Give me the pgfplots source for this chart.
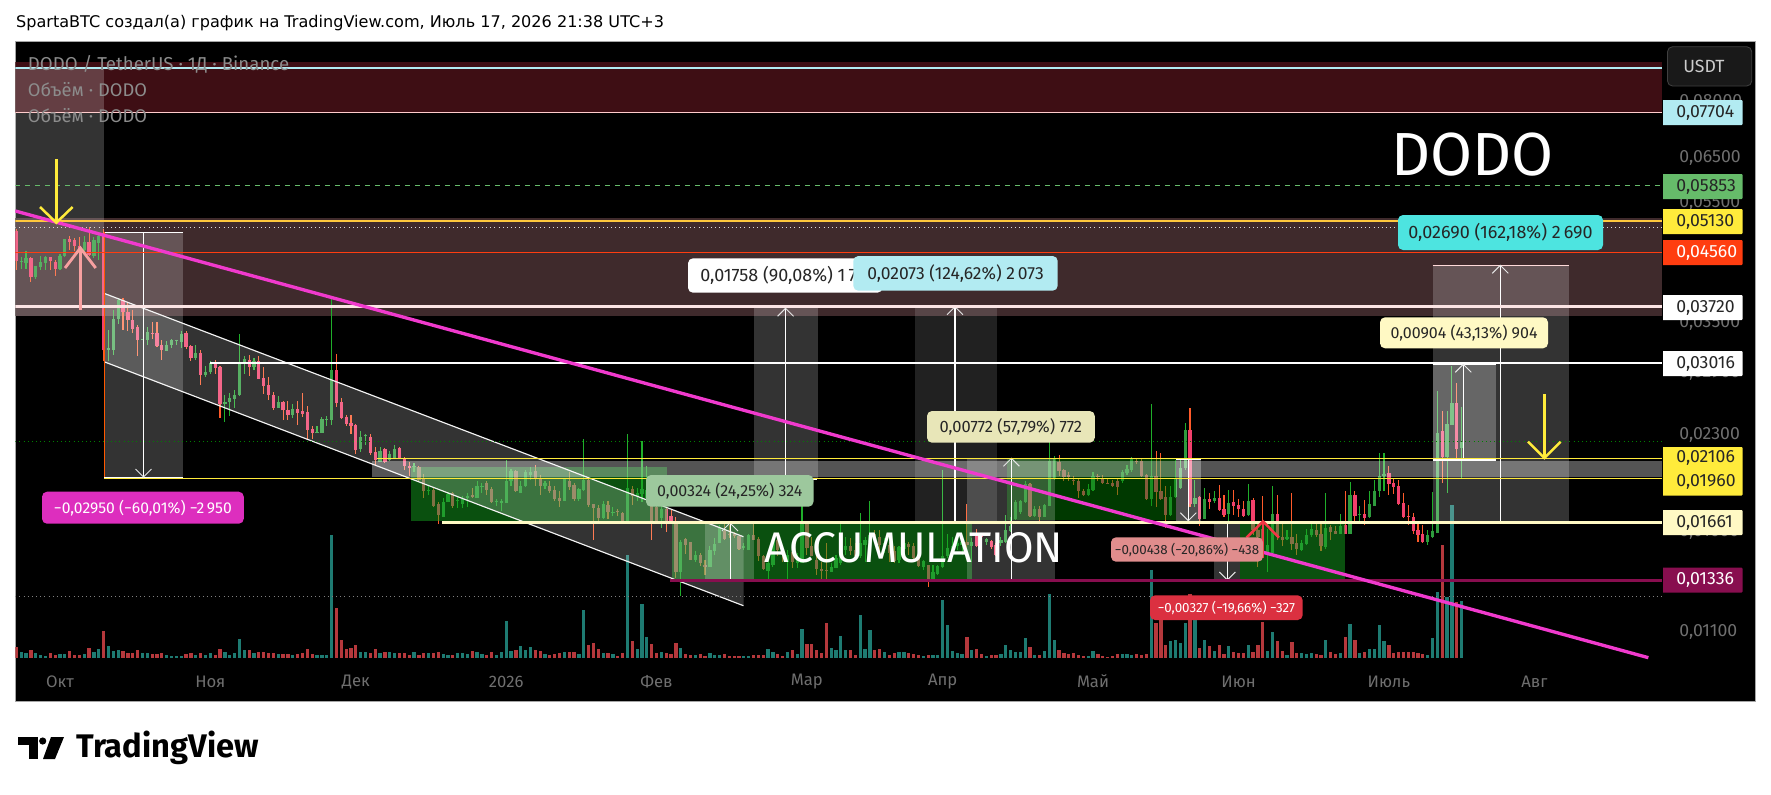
\documentclass[border=0pt]{standalone}
\usepackage{fontspec}
\usepackage{pgfplots}
\usepackage{pgfplotstable}
\pgfplotsset{compat=1.18}
\setmainfont{Fira Sans}
\newfontfamily\titlefont{DejaVu Sans}
\definecolor{upw}{HTML}{1FAE2A}
\definecolor{upb}{HTML}{2E9B3D}
\definecolor{dnw}{HTML}{FF5A2A}
\definecolor{dnb}{HTML}{F2406C}
\definecolor{vup}{HTML}{1E7B72}
\definecolor{vdn}{HTML}{B5383C}
\definecolor{wine}{HTML}{880E4F}
\definecolor{cream}{HTML}{FFF9C4}
\definecolor{tv}{HTML}{6F6F6F}
\definecolor{zonea}{HTML}{3E0E14}
\definecolor{zoneb}{HTML}{3F2A2C}
\definecolor{gbox}{RGB}{20,160,30}
\definecolor{pinkline}{HTML}{F03ACD}
\definecolor{lcyan}{HTML}{B2EBF2}
\definecolor{tcyan}{HTML}{4DE4E0}
\definecolor{lgreen}{HTML}{66BB6A}
\definecolor{yell}{HTML}{FFEB3B}
\definecolor{amber}{HTML}{FFC83D}
\definecolor{orred}{HTML}{FF3D10}
\definecolor{magl}{HTML}{DD2EBE}
\definecolor{sage}{HTML}{9DC89D}
\definecolor{khaki}{HTML}{E8E6B8}
\definecolor{rose}{HTML}{E08D8D}
\definecolor{redl}{HTML}{DB3040}
\definecolor{redarrow}{HTML}{F23645}
\definecolor{pinkarrow}{HTML}{F7A0A0}
\definecolor{pinkwhite}{HTML}{FBE4E4}
% date index (days from 1 Oct 2025), open, high, low, close, volume
\pgfplotstableread{
d o h l c v
-8 0.04400 0.04486 0.04293 0.04423 5.3
-7 0.04384 0.04580 0.04293 0.04470 4.3
-5 0.04161 0.04341 0.04131 0.04341 4.3
-4 0.04320 0.04507 0.04265 0.04394 2.7
-3 0.04384 0.04495 0.04277 0.04486 1.7
0 0.04288 0.04536 0.04265 0.04507 3.7
1 0.04507 0.04799 0.04486 0.04799 3.7
5 0.04610 0.04846 0.04580 0.04737 3.7
7 0.04507 0.04834 0.04470 0.04786 5.7
8 0.04726 0.04877 0.04428 0.04859 8.7
10 0.03169 0.03416 0.03033 0.03185 11.7
11 0.03160 0.03681 0.03110 0.03555 6.7
12 0.03555 0.03846 0.03493 0.03822 7.7
17 0.03290 0.03299 0.03281 0.03299 4.3
18 0.03290 0.03446 0.03229 0.03390 5
22 0.03148 0.03277 0.03148 0.03229 3
23 0.03220 0.03299 0.03190 0.03281 1.7
24 0.03281 0.03290 0.03229 0.03290 1.7
25 0.03264 0.03403 0.03190 0.03360 1.7
28 0.03075 0.03229 0.03044 0.03130 3
30 0.02882 0.02984 0.02861 0.02918 3
31 0.02910 0.03033 0.02896 0.03016 4.3
34 0.02588 0.02677 0.02420 0.02609 5.7
35 0.02606 0.02694 0.02476 0.02647 2.7
36 0.02634 0.02727 0.02547 0.02677 4.3
37 0.02677 0.03365 0.02667 0.03016 18.7
38 0.03007 0.03090 0.02896 0.03060 7.7
40 0.02975 0.03072 0.02932 0.03041 5
45 0.02551 0.02667 0.02551 0.02606 3.7
48 0.02484 0.02588 0.02455 0.02540 3
53 0.02324 0.02383 0.02324 0.02330 2.3
54 0.02324 0.02465 0.02324 0.02443 3
55 0.02440 0.02475 0.02383 0.02446 2.7
56 0.02437 0.03846 0.02392 0.02932 122.7
62 0.02186 0.02339 0.02157 0.02287 5.7
63 0.02295 0.02313 0.02220 0.02301 5.7
66 0.02082 0.02203 0.02082 0.02170 4.3
68 0.02098 0.02170 0.02087 0.02146 5.7
69 0.02114 0.02220 0.02114 0.02186 5
73 0.02043 0.02074 0.02006 0.02051 5.7
76 0.01868 0.01904 0.01840 0.01875 4.3
79 0.01694 0.01820 0.01694 0.01792 3.3
80 0.01792 0.01861 0.01792 0.01847 2.3
82 0.01798 0.01833 0.01752 0.01806 4.3
83 0.01780 0.01833 0.01752 0.01813 4.3
84 0.01820 0.01854 0.01760 0.01833 3.7
86 0.01820 0.01939 0.01820 0.01904 5.7
87 0.01896 0.01925 0.01854 0.01904 3.7
90 0.01789 0.01813 0.01762 0.01796 2.3
91 0.01785 0.01813 0.01734 0.01796 5.7
92 0.01785 0.02098 0.01785 0.01939 36.7
93 0.01935 0.02026 0.01904 0.02011 6.7
95 0.01856 0.01935 0.01852 0.01904 11.7
96 0.01899 0.02021 0.01895 0.02008 7.7
97 0.01984 0.02041 0.01947 0.02008 10.7
100 0.01899 0.01935 0.01882 0.01923 3.7
104 0.01796 0.01960 0.01796 0.01952 5.7
107 0.01811 0.01887 0.01801 0.01882 3.7
108 0.01875 0.02268 0.01864 0.01947 47.7
112 0.01686 0.01798 0.01681 0.01780 4.7
114 0.01719 0.01757 0.01700 0.01723 3.7
117 0.01671 0.02313 0.01671 0.01887 102.7
119 0.01829 0.01887 0.01796 0.01852 9
120 0.01847 0.02253 0.01789 0.01880 53.7
121 0.01818 0.02048 0.01806 0.01875 20.7
124 0.01686 0.01762 0.01628 0.01747 5.7
128 0.01376 0.01554 0.01259 0.01544 9.7
131 0.01442 0.01491 0.01431 0.01467 2.3
134 0.01404 0.01518 0.01404 0.01495 4.3
135 0.01491 0.01565 0.01467 0.01531 2.3
136 0.01537 0.01644 0.01535 0.01628 2.3
141 0.01510 0.01535 0.01495 0.01518 1.7
142 0.01497 0.01587 0.01497 0.01584 1.7
146 0.01384 0.01442 0.01342 0.01425 8.7
147 0.01417 0.01565 0.01404 0.01554 5.7
150 0.01431 0.01497 0.01342 0.01469 5.7
152 0.01425 0.01482 0.01398 0.01450 3.7
153 0.01425 0.01796 0.01425 0.01647 28.7
159 0.01379 0.01425 0.01376 0.01404 9.7
160 0.01401 0.01469 0.01398 0.01450 7.7
161 0.01425 0.01647 0.01415 0.01502 21.7
162 0.01497 0.01574 0.01469 0.01518 7.7
165 0.01463 0.01719 0.01455 0.01535 42.7
166 0.01525 0.01574 0.01431 0.01554 8.7
167 0.01544 0.01798 0.01525 0.01584 27.7
170 0.01500 0.01565 0.01482 0.01535 5.7
173 0.01442 0.01518 0.01425 0.01513 5.7
174 0.01505 0.01544 0.01482 0.01535 5.7
178 0.01404 0.01444 0.01388 0.01436 1.7
180 0.01342 0.01415 0.01342 0.01376 2.7
181 0.01368 0.01417 0.01363 0.01409 2.7
182 0.01404 0.02021 0.01398 0.01463 57.7
183 0.01461 0.01590 0.01455 0.01510 32.7
184 0.01495 0.01571 0.01463 0.01518 6.7
185 0.01518 0.01574 0.01497 0.01535 4.7
186 0.01525 0.01565 0.01469 0.01544 3.7
188 0.01518 0.01565 0.01431 0.01544 7.7
191 0.01544 0.01565 0.01525 0.01558 1.7
194 0.01535 0.01574 0.01518 0.01554 3.7
195 0.01544 0.01707 0.01535 0.01614 12.7
196 0.01610 0.01696 0.01600 0.01637 7.7
197 0.01683 0.01806 0.01676 0.01789 5.3
198 0.01723 0.01806 0.01712 0.01796 6
199 0.01789 0.01935 0.01785 0.01918 19.7
201 0.01700 0.01762 0.01696 0.01747 2.7
203 0.01693 0.01780 0.01693 0.01771 6.7
204 0.01766 0.02290 0.01762 0.02091 63.7
205 0.01960 0.02127 0.01947 0.02104 17.7
212 0.01840 0.01916 0.01829 0.01880 1.7
213 0.01875 0.02001 0.01870 0.01977 6.7
219 0.01935 0.02021 0.01927 0.02001 3.7
220 0.01996 0.02059 0.01984 0.02026 3.7
221 0.02021 0.02118 0.02008 0.02104 2.7
225 0.01811 0.02588 0.01762 0.01977 87.7
229 0.01707 0.01899 0.01700 0.01825 16.7
230 0.01825 0.02098 0.01818 0.01960 17.7
231 0.01887 0.02098 0.01880 0.02033 14.3
232 0.02033 0.02412 0.02021 0.02348 34.7
234 0.01780 0.01947 0.01757 0.01818 39.3
236 0.01683 0.01887 0.01680 0.01811 17.7
238 0.01796 0.01864 0.01785 0.01818 6.7
241 0.01714 0.01875 0.01671 0.01785 11.7
245 0.01707 0.01918 0.01703 0.01798 12.7
249 0.01478 0.01622 0.01376 0.01525 6.7
250 0.01478 0.01904 0.01469 0.01714 25.7
253 0.01558 0.01614 0.01554 0.01571 2.7
256 0.01497 0.01554 0.01491 0.01538 4.3
257 0.01531 0.01622 0.01525 0.01584 3.7
258 0.01584 0.01654 0.01574 0.01620 4.3
261 0.01513 0.01852 0.01500 0.01626 17.7
264 0.01590 0.01714 0.01590 0.01639 4.7
266 0.01590 0.01930 0.01590 0.01840 33.7
268 0.01707 0.01766 0.01665 0.01712 4.7
270 0.01692 0.01864 0.01686 0.01778 8.7
271 0.01766 0.01947 0.01762 0.01870 8.7
272 0.01864 0.02152 0.01825 0.01977 32.7
273 0.01972 0.02152 0.01864 0.01991 16.7
282 0.01540 0.01614 0.01525 0.01584 2.7
283 0.01574 0.01859 0.01565 0.01610 19.7
284 0.01597 0.02710 0.01597 0.02319 65.7
286 0.02122 0.02515 0.01852 0.02401 60.7
287 0.02392 0.02984 0.02392 0.02594 152.7
289 0.02191 0.02561 0.01960 0.02242 56.7
}\up
\pgfplotstableread{
d o h l c v
-9 0.04938 0.04982 0.04277 0.04410 10.3
-6 0.04470 0.04480 0.04089 0.04161 7.7
-2 0.04486 0.04486 0.04277 0.04410 4.3
-1 0.04407 0.04428 0.04171 0.04288 3
2 0.04799 0.04859 0.04610 0.04750 6.7
3 0.04786 0.04816 0.04580 0.04680 3
4 0.04680 0.04834 0.04524 0.04598 2.3
6 0.04737 0.05020 0.04507 0.04524 9.7
9 0.04877 0.04988 0.03033 0.03160 26.7
13 0.03822 0.03846 0.03407 0.03644 6.7
14 0.03653 0.03775 0.03394 0.03546 4.3
15 0.03546 0.03672 0.03373 0.03429 4.3
16 0.03446 0.03480 0.03098 0.03290 7.7
19 0.03377 0.03515 0.03303 0.03364 3.7
20 0.03377 0.03510 0.03200 0.03209 3.7
21 0.03229 0.03290 0.03052 0.03160 4.3
26 0.03377 0.03403 0.03177 0.03204 3.7
27 0.03217 0.03229 0.03033 0.03075 4.3
29 0.03134 0.03169 0.02773 0.02885 4.3
32 0.03016 0.03052 0.02896 0.02962 2.7
33 0.02973 0.02987 0.02458 0.02588 8.7
39 0.03052 0.03110 0.02874 0.02975 7.7
41 0.03041 0.03098 0.02843 0.02843 5.7
42 0.02853 0.02969 0.02687 0.02762 5.7
43 0.02772 0.02861 0.02627 0.02677 4.3
44 0.02677 0.02704 0.02530 0.02547 4.3
46 0.02606 0.02620 0.02437 0.02524 3.7
47 0.02527 0.02613 0.02437 0.02484 3.3
49 0.02540 0.02620 0.02392 0.02502 3.7
50 0.02521 0.02694 0.02467 0.02493 4.3
51 0.02511 0.02568 0.02256 0.02348 8.7
52 0.02357 0.02383 0.02268 0.02319 3.7
57 0.02932 0.03122 0.02561 0.02599 49.7
58 0.02606 0.02647 0.02443 0.02455 17.7
59 0.02465 0.02484 0.02383 0.02401 9
60 0.02410 0.02484 0.02313 0.02383 9.7
61 0.02392 0.02401 0.02146 0.02178 12.7
64 0.02287 0.02313 0.02138 0.02155 4.3
65 0.02162 0.02203 0.02053 0.02098 8.7
67 0.02186 0.02195 0.02074 0.02082 5.7
70 0.02195 0.02203 0.02104 0.02104 5
71 0.02106 0.02122 0.02021 0.02051 4.3
72 0.02051 0.02082 0.01977 0.02036 3
74 0.02043 0.02051 0.01935 0.01947 3
75 0.01955 0.01991 0.01820 0.01868 4.3
77 0.01875 0.01889 0.01760 0.01766 4.3
78 0.01780 0.01792 0.01650 0.01707 5.7
81 0.01852 0.01861 0.01752 0.01766 3
85 0.01840 0.01889 0.01820 0.01827 6.7
88 0.01927 0.01935 0.01840 0.01875 2.7
89 0.01880 0.01895 0.01785 0.01789 6
94 0.02011 0.02021 0.01861 0.01866 8
98 0.02011 0.02059 0.01904 0.01952 8
99 0.01952 0.01984 0.01840 0.01904 7
101 0.01904 0.01935 0.01852 0.01866 2.7
102 0.01873 0.01899 0.01796 0.01813 4
103 0.01818 0.01864 0.01757 0.01796 5
105 0.01939 0.02008 0.01875 0.01895 5.7
106 0.01911 0.01923 0.01801 0.01811 5.7
109 0.01947 0.01968 0.01757 0.01771 12.7
110 0.01778 0.01780 0.01554 0.01754 14.7
111 0.01754 0.01773 0.01671 0.01686 9
113 0.01773 0.01796 0.01680 0.01723 4.7
115 0.01733 0.01747 0.01700 0.01725 1.7
116 0.01719 0.01723 0.01665 0.01669 4.7
118 0.01880 0.01899 0.01773 0.01833 17
122 0.01829 0.01840 0.01554 0.01671 13.7
123 0.01757 0.01766 0.01665 0.01671 4.7
125 0.01747 0.01757 0.01600 0.01665 4.7
126 0.01700 0.01742 0.01654 0.01658 3.7
127 0.01654 0.01693 0.01346 0.01376 14.7
129 0.01558 0.01565 0.01473 0.01525 3.7
130 0.01544 0.01544 0.01444 0.01444 2.3
132 0.01469 0.01482 0.01409 0.01424 3.7
133 0.01417 0.01442 0.01363 0.01407 1.7
137 0.01605 0.01654 0.01554 0.01562 3.7
138 0.01590 0.01644 0.01565 0.01584 1.7
139 0.01587 0.01600 0.01565 0.01578 1.7
140 0.01578 0.01578 0.01500 0.01505 1.7
143 0.01584 0.01650 0.01554 0.01554 2.7
144 0.01560 0.01571 0.01436 0.01461 2.7
145 0.01463 0.01469 0.01388 0.01394 2.7
148 0.01554 0.01574 0.01461 0.01497 3.7
149 0.01505 0.01520 0.01431 0.01469 1.7
151 0.01488 0.01497 0.01398 0.01431 7.7
154 0.01650 0.01654 0.01469 0.01510 13.7
155 0.01521 0.01574 0.01461 0.01461 13.7
156 0.01444 0.01469 0.01363 0.01394 7.7
157 0.01392 0.01431 0.01342 0.01384 4.7
158 0.01388 0.01535 0.01342 0.01384 34.7
163 0.01520 0.01565 0.01469 0.01493 7.7
164 0.01497 0.01535 0.01450 0.01461 2.7
168 0.01590 0.01614 0.01537 0.01571 7.7
169 0.01574 0.01614 0.01461 0.01525 8.7
171 0.01525 0.01544 0.01431 0.01482 2.7
172 0.01491 0.01518 0.01424 0.01434 4.7
175 0.01531 0.01544 0.01469 0.01513 4.7
176 0.01520 0.01535 0.01442 0.01450 3.7
177 0.01450 0.01461 0.01404 0.01409 2.7
179 0.01415 0.01415 0.01305 0.01342 2.7
187 0.01544 0.01780 0.01482 0.01525 20.7
189 0.01578 0.01622 0.01518 0.01520 8.7
190 0.01578 0.01590 0.01544 0.01571 3.7
192 0.01547 0.01554 0.01502 0.01513 2.3
193 0.01525 0.01535 0.01461 0.01467 2.7
200 0.01918 0.01927 0.01693 0.01700 10.7
202 0.01743 0.01766 0.01671 0.01696 2.7
206 0.02084 0.02133 0.01977 0.02014 7.7
207 0.02021 0.02026 0.01935 0.01968 4.3
208 0.01984 0.02008 0.01935 0.01968 3.7
209 0.01947 0.01977 0.01911 0.01935 4.3
210 0.01939 0.01952 0.01818 0.01864 2.7
211 0.01870 0.01880 0.01833 0.01840 1.7
214 0.01977 0.01991 0.01941 0.01965 3.7
215 0.01960 0.01984 0.01918 0.01923 1.7
216 0.01927 0.01960 0.01918 0.01923 1
217 0.01927 0.01947 0.01895 0.01904 1.7
218 0.01939 0.01952 0.01840 0.01895 3.7
222 0.02091 0.02112 0.02069 0.02078 3.7
223 0.02091 0.02104 0.01972 0.01977 2.7
224 0.01982 0.01991 0.01806 0.01811 3.7
226 0.01972 0.02167 0.01757 0.01861 34.7
227 0.01870 0.02152 0.01811 0.01815 57.7
228 0.01825 0.01904 0.01628 0.01707 12.7
233 0.02348 0.02547 0.01757 0.01780 63.7
235 0.01825 0.01829 0.01637 0.01680 9.7
237 0.01815 0.01852 0.01747 0.01792 11.7
239 0.01820 0.01911 0.01730 0.01740 12.7
240 0.01743 0.01840 0.01696 0.01707 3.7
242 0.01789 0.01875 0.01707 0.01766 5.3
243 0.01771 0.01811 0.01696 0.01745 4.3
244 0.01747 0.01796 0.01696 0.01700 4.3
246 0.01806 0.01818 0.01584 0.01614 5.3
247 0.01614 0.01654 0.01404 0.01574 12.7
248 0.01619 0.01833 0.01518 0.01544 35.7
251 0.01714 0.01840 0.01554 0.01571 16.7
252 0.01574 0.01654 0.01518 0.01554 6.7
254 0.01569 0.01852 0.01497 0.01531 15.7
255 0.01538 0.01590 0.01467 0.01503 4.3
259 0.01614 0.01650 0.01574 0.01584 3.7
260 0.01592 0.01654 0.01491 0.01518 2.3
262 0.01630 0.01644 0.01554 0.01600 5.7
263 0.01605 0.01639 0.01590 0.01590 3.7
265 0.01644 0.01870 0.01590 0.01590 20.7
267 0.01840 0.01868 0.01654 0.01700 17.7
269 0.01714 0.01806 0.01644 0.01690 5.7
274 0.01999 0.02051 0.01840 0.01918 12.7
275 0.01923 0.01952 0.01847 0.01895 4.7
276 0.01904 0.01947 0.01773 0.01780 5.7
277 0.01785 0.01852 0.01686 0.01692 5.7
278 0.01700 0.01773 0.01644 0.01696 5.7
279 0.01694 0.01719 0.01590 0.01605 5.7
280 0.01614 0.01654 0.01544 0.01584 4.7
281 0.01590 0.01644 0.01537 0.01540 3.7
285 0.02334 0.02515 0.01923 0.02122 112.7
288 0.02594 0.02795 0.02098 0.02183 55.7
}\dn
% picture unit: one reference pixel = 0.6pt
\pgfplotsset{every axis/.append style={scale only axis,width=987.9pt,height=370.38pt,
  at={(9.18pt,-395.4pt)},anchor=south west}}
\newcommand{\Rx}[5]{\addplot[draw=none,fill=#5] coordinates {(#1,#3)(#2,#3)(#2,#4)(#1,#4)} --cycle;}
\newcommand{\Lv}[3]{\addplot[#3] coordinates {(#2,#1)(330.27,#1)};}
\newcommand{\Lbl}[8]{\fill[#5,rounded corners=3pt] (#1,#3) rectangle (#2,#4);
  \node[text=#6,font=\fontsize{#8pt}{11pt}\selectfont,inner sep=0] at ({(#1+#2)/2},{(#3+#4)/2}) {#7};}
\newcommand{\Pl}[3]{\fill[#3] (1663,#1) -- (1741.5,#1) -- (1742.5,#1+1) -- (1742.5,#2-1) -- (1741.5,#2) -- (1663,#2) --cycle;}
\newcommand{\Pn}[3]{\node[text=#2,font=\fontsize{10.6pt}{11pt}\selectfont,anchor=west,inner sep=0] at (1676,#1) {#3};}
\begin{document}
\begin{tikzpicture}
\begin{scope}[x=0.6pt,y=-0.6pt]
\useasboundingbox (0,0) rectangle (1771,794);
\fill[white] (0,0) rectangle (1771,794);
\fill[black,draw=gray!70!white,line width=0.5pt] (15.3,41.7) rectangle (1755.5,701);
\node[anchor=west,inner sep=0,font=\titlefont\fontsize{9.65pt}{11pt}\selectfont] at (15.8,23.5) {SpartaBTC создал(а) график на TradingView.com, Июль 17, 2026 21:38 UTC+3};
\end{scope}
% volume
\begin{axis}[hide axis,xmin=-9.216,xmax=330.27,ymin=-1.3,ymax=616]
\addplot[ycomb,color=vup,line width=1.95pt] table[x=d,y=v]{\up};
\addplot[ycomb,color=vdn,line width=1.95pt] table[x=d,y=v]{\dn};
\end{axis}
% price
\begin{axis}[xmin=-9.216,xmax=330.27,ymode=log,ymin=0.00995,ymax=0.10043,
  axis line style={draw=none},tick style={draw=none},major tick length=0pt,
  yminorticks=false,xminorticks=false,ytick pos=right,
  ytick={0.011,0.016,0.023,0.029,0.035,0.055,0.065,0.08},
  yticklabels={{0,01100},{0,01600},{0,02300},{0,02900},{0,03500},{0,05500},{0,06500},{0,08000}},
  xtick={0,31,61,92,123,154,182,213,243,274,304},
  xticklabels={Окт,Ноя,Дек,2026,Фев,Мар,Апр,Май,Июн,Июль,Авг},
  yticklabel style={text=tv,font=\fontsize{10.6pt}{11pt}\selectfont,anchor=west,xshift=7pt},
  xticklabel style={text=tv,font=\fontsize{10pt}{11pt}\selectfont,anchor=center,yshift=-13.5pt}]
\Rx{-9.216}{330.27}{0.0931}{0.07704}{zonea}
\Rx{-9.216}{330.27}{0.05184}{0.03599}{zoneb}
\addplot[draw=none,mark=none,error bars/.cd,y dir=both,y explicit,error mark=none,error bar style={color=upw,line width=0.66pt}] table[x=d,y=c,y error plus expr=\thisrow{h}-\thisrow{c},y error minus expr=\thisrow{c}-\thisrow{l}]{\up};
\addplot[draw=none,mark=none,error bars/.cd,y dir=both,y explicit,error mark=none,error bar style={color=dnw,line width=0.66pt}] table[x=d,y=c,y error plus expr=\thisrow{h}-\thisrow{c},y error minus expr=\thisrow{c}-\thisrow{l}]{\dn};
\addplot[draw=none,mark=none,error bars/.cd,y dir=minus,y explicit,error mark=none,error bar style={color=upb,line width=1.95pt}] table[x=d,y=c,y error minus expr=\thisrow{c}-\thisrow{o}]{\up};
\addplot[draw=none,mark=none,error bars/.cd,y dir=plus,y explicit,error mark=none,error bar style={color=dnb,line width=1.95pt}] table[x=d,y=c,y error plus expr=\thisrow{o}-\thisrow{c}]{\dn};
\end{axis}
% drawing tools in reference pixel coordinates
\begin{axis}[hide axis,xmin=15.3,xmax=1661.8,ymin=41.7,ymax=659,y dir=reverse]
\Rx{411}{667}{466.7}{521}{gbox,fill opacity=.5}
\Rx{671.6}{972}{522}{579.3}{gbox,fill opacity=.5}
\Rx{1006.7}{1176}{459}{520}{green!50!black,fill opacity=.45}
\Rx{1240}{1345}{524}{579}{gbox,fill opacity=.5}
\Rx{15.3}{104}{68}{316}{white,fill opacity=.2}
\addplot[draw=none,fill=white,fill opacity=.2] coordinates {(104,293.3)(743.5,536.7)(743.5,605.7)(104,361.7)} --cycle;
\addplot[white!90!gray,line width=0.7pt] coordinates {(104,293.3)(743.5,536.7)};
\addplot[white!90!gray,line width=0.7pt] coordinates {(104,361.7)(743.5,605.7)};
\Rx{372}{1661.8}{461}{476.7}{white,fill opacity=.33}
\Rx{104}{182.5}{232.3}{477.7}{white,fill opacity=.2}
\addplot[white,line width=0.7pt] coordinates {(104,232.3)(182.5,232.3)};
\addplot[orange!70!red,line width=0.6pt] coordinates {(104.3,232.3)(104.3,477.7)};
\addplot[white,line width=1.2pt] coordinates {(104,477.7)(182.5,477.7)};
\addplot[white,line width=0.6pt] coordinates {(143.5,232.3)(143.5,477)};
\addplot[white!80!gray,line width=0.6pt] coordinates {(135.5,469)(143.5,477)(151.5,469)};
\Rx{705}{754}{523}{580}{white,fill opacity=.2}
\addplot[white,line width=0.8pt] coordinates {(705,580)(754,580)};
\addplot[white,line width=0.6pt] coordinates {(730,580)(730,523)};
\addplot[white!80!gray,line width=0.6pt] coordinates {(722,531)(730,523)(738,531)};
\Rx{753.8}{818}{308.3}{479}{white,fill opacity=.2}
\addplot[white,line width=1.2pt] coordinates {(753.8,479)(817,479)};
\addplot[white,line width=0.7pt] coordinates {(785.6,479)(785.6,308.3)};
\addplot[white!80!gray,line width=0.6pt] coordinates {(777.6,316.3)(785.6,308.3)(793.6,316.3)};
\Rx{914.6}{997}{306.7}{522}{white,fill opacity=.13}
\addplot[white,line width=0.7pt] coordinates {(955,522)(955,306.7)};
\addplot[white!80!gray,line width=0.6pt] coordinates {(947,314.7)(955,306.7)(963,314.7)};
\Rx{967.4}{1054.7}{458.3}{580}{white,fill opacity=.2}
\addplot[white,line width=0.8pt] coordinates {(967.4,458.3)(1054.7,458.3)};
\addplot[white,line width=0.8pt] coordinates {(967.4,580)(1054.7,580)};
\addplot[white,line width=0.6pt] coordinates {(1011.4,580)(1011.4,458.3)};
\addplot[white!80!gray,line width=0.6pt] coordinates {(1003.4,466.3)(1011.4,458.3)(1019.4,466.3)};
\Rx{1176}{1200.7}{459.3}{520.7}{white,fill opacity=.3}
\addplot[white,line width=0.8pt] coordinates {(1176,459.3)(1200.7,459.3)};
\addplot[white,line width=0.6pt] coordinates {(1188.3,459.3)(1188.3,520.7)};
\addplot[white!80!gray,line width=0.6pt] coordinates {(1180.3,512.7)(1188.3,520.7)(1196.3,512.7)};
\Rx{1214}{1240}{522}{580}{white,fill opacity=.2}
\addplot[white,line width=0.8pt] coordinates {(1214,580)(1240,580)};
\addplot[white,line width=0.6pt] coordinates {(1227.4,522)(1227.4,580)};
\addplot[white!80!gray,line width=0.6pt] coordinates {(1219.4,572)(1227.4,580)(1235.4,572)};
\Rx{1432.7}{1496}{364.3}{460}{white,fill opacity=.25}
\addplot[white,line width=0.8pt] coordinates {(1432.7,364.3)(1496,364.3)};
\addplot[white,line width=0.9pt] coordinates {(1432.7,460)(1496,460)};
\addplot[white,line width=0.6pt] coordinates {(1463.3,460)(1463.3,364.3)};
\addplot[white!80!gray,line width=0.6pt] coordinates {(1455.3,372.3)(1463.3,364.3)(1471.3,372.3)};
\Rx{1432.5}{1569}{265.3}{522}{white,fill opacity=.2}
\addplot[white!85!red,line width=0.7pt] coordinates {(1432.5,265.3)(1569,265.3)};
\addplot[white,line width=0.7pt] coordinates {(1500.3,522)(1500.3,265.3)};
\addplot[white!80!gray,line width=0.6pt] coordinates {(1492.3,273.3)(1500.3,265.3)(1508.3,273.3)};
\end{axis}
% horizontal levels at their prices, trend line
\begin{axis}[hide axis,xmin=-9.216,xmax=330.27,ymode=log,ymin=0.00995,ymax=0.10043]
\Lv{0.0909}{-9.216}{color=lcyan,line width=1.3pt}
\Lv{0.07704}{-9.216}{color=white!80!red,line width=0.6pt}
\Lv{0.05853}{-9.216}{color=lgreen,line width=0.6pt,dash pattern=on 3pt off 3pt}
\Lv{0.0513}{-9.216}{color=amber,line width=1.5pt}
\Lv{0.0501}{-9.216}{color=white!70!gray,line width=0.5pt,dotted}
\Lv{0.0456}{-9.216}{color=orred,line width=0.7pt}
\Lv{0.0372}{-9.216}{color=pinkwhite,line width=1.8pt}
\Lv{0.03016}{31}{color=white,line width=0.7pt}
\Lv{0.02248}{-9.216}{color=green!50!black,line width=0.5pt,dotted}
\Lv{0.02106}{65.4}{color=yell,line width=0.6pt}
\Lv{0.0196}{9.07}{color=yell,line width=0.6pt}
\Lv{0.01661}{78.8}{color=cream,line width=1.8pt}
\Lv{0.01336}{125.8}{color=wine,line width=1.8pt}
\Lv{0.01258}{-9.216}{color=gray,line width=0.5pt,dotted}
\addplot[color=pinkline,line width=2pt] coordinates {(-9.216,0.05328)(327.5,0.01000)};
\end{axis}
% arrows
\begin{axis}[hide axis,xmin=15.3,xmax=1661.8,ymin=41.7,ymax=659,y dir=reverse]
\addplot[yell,line width=1.5pt] coordinates {(56.3,159)(56.3,222.7)};
\addplot[yell,line width=1.5pt] coordinates {(40,207)(56.3,222.7)(72.6,207)};
\addplot[pinkarrow,line width=1.7pt] coordinates {(80.4,310)(80.4,248)};
\addplot[pinkarrow,line width=1.7pt] coordinates {(65,268)(80.4,248)(95.7,268)};
\addplot[yell,line width=1.5pt] coordinates {(1544.3,394)(1544.3,458)};
\addplot[yell,line width=1.5pt] coordinates {(1528,441.7)(1544.3,458)(1560.6,441.7)};
\addplot[redarrow,line width=1.5pt] coordinates {(1263,558)(1263,521.3)};
\addplot[redarrow,line width=1.5pt] coordinates {(1246.5,537.7)(1263,521.3)(1279,537.7)};
\end{axis}
\begin{scope}[x=0.6pt,y=-0.6pt]
\node[anchor=west,inner sep=0,text=white!55!black,font=\fontsize{11.2pt}{12pt}\selectfont] at (27.5,64.5) {DODO / TetherUS · 1Д · Binance};
\node[anchor=west,inner sep=0,text=white!55!black,font=\fontsize{11pt}{12pt}\selectfont] at (27.5,90) {Объём · DODO};
\node[anchor=west,inner sep=0,text=white!55!black,font=\fontsize{11pt}{12pt}\selectfont] at (27.5,116) {Объём · DODO};
\node[text=white,inner sep=0,font=\fontsize{36.5pt}{40pt}\selectfont] at (1472.7,155) {DODO};
\node[text=white,inner sep=0,font=\fontsize{25.7pt}{30pt}\selectfont] at (914,548) {ACCUMULATION};
\Lbl{42}{243.8}{491.7}{523.7}{magl}{white}{−0,02950 (−60,01\%) −2\,950}{9.4}
\Lbl{646}{813.5}{475}{506.7}{sage}{black!85}{0,00324 (24,25\%) 324}{9.6}
\fill[white,rounded corners=3pt] (688,258.3) rectangle (882.4,292.7);
\node[text=black!85,anchor=west,inner sep=0,font=\fontsize{10.8pt}{11pt}\selectfont] at (700,275.5) {0,01758 (90,08\%) 1\,758};
\Lbl{853.3}{1057.7}{256}{290.7}{lcyan}{black!85}{0,02073 (124,62\%) 2\,073}{10.5}
\Lbl{927}{1094.8}{411}{442.7}{khaki}{black!85}{0,00772 (57,79\%) 772}{9.9}
\Lbl{1111}{1263}{537.3}{561.7}{rose}{black!85}{−0,00438 (−20,86\%) −438}{8}
\Lbl{1150}{1302.7}{595.3}{620}{redl}{white}{−0,00327 (−19,66\%) −327}{8}
\Lbl{1380}{1548}{317.3}{348.3}{cream}{black!85}{0,00904 (43,13\%) 904}{9.6}
\Lbl{1398}{1603}{215}{250}{tcyan}{black!85}{0,02690 (162,18\%) 2\,690}{10.8}
% price scale tags
\Pl{100}{125}{lcyan}\Pn{112.5}{black!85}{0,07704}
\Pl{174}{199}{lgreen}\Pn{186.5}{black!85}{0,05853}
\Pl{209}{234}{yell}\Pn{221.5}{black!85}{0,05130}
\Pl{240}{265}{orred}\Pn{252.5}{white}{0,04560}
\Pl{295}{320}{white}\Pn{307.5}{black!85}{0,03720}
\Pl{351}{376}{white}\Pn{363.5}{black!85}{0,03016}
\Pl{447}{495.7}{yell}\Pn{458}{black!85}{0,02106}\Pn{482}{black!85}{0,01960}
\Pl{510}{535}{cream}\Pn{522.5}{black!85}{0,01661}
\Pl{567.7}{592.7}{wine}\Pn{580.2}{white}{0,01336}
\draw[fill=black!90!white,draw=white!25!black,rounded corners=3pt,line width=0.5pt] (1667.5,46.7) rectangle (1751.7,86);
\node[text=white!80!black,anchor=west,inner sep=0,font=\fontsize{10.6pt}{11pt}\selectfont] at (1683,66.5) {USDT};
% logo
\node[anchor=west,inner sep=0,font=\bfseries\fontsize{19.6pt}{21pt}\selectfont] at (76,748) {TradingView};
\fill[black] (18,737) rectangle (38,744.5); \fill[black] (29,744.5) rectangle (38,759);
\fill[black] (42.7,741) circle (3.6);
\fill[black] (51,737) -- (64,737) -- (55,759) -- (43,759) --cycle;
\end{scope}
\end{tikzpicture}
\end{document}
